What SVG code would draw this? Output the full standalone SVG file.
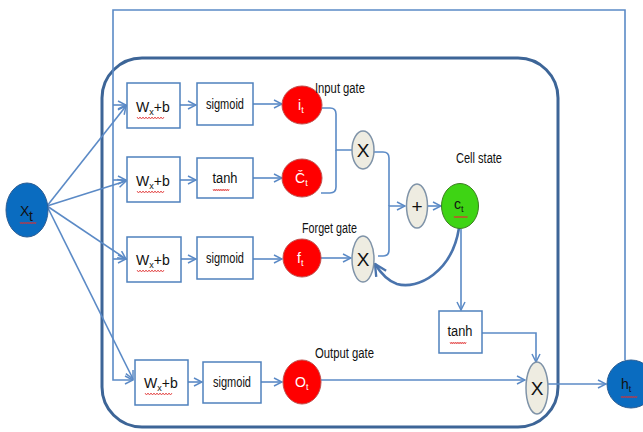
<svg xmlns="http://www.w3.org/2000/svg" width="643" height="432" viewBox="0 0 643 432">
<defs>
<style>
.ln{fill:none;stroke:#5b8ac6;stroke-width:1.6}
.thk{fill:none;stroke:#4a74ad;stroke-width:2.6}
.box{fill:#fff;stroke:#4f81bd;stroke-width:1.5}
.red{fill:#ff0000;stroke:#c0504d;stroke-width:1}
.blue{fill:#0a6cc0;stroke:#2c5d93;stroke-width:1}
.grn{fill:#3ed414;stroke:#3c7d22;stroke-width:1}
.op{fill:#eeece1;stroke:#7f93a8;stroke-width:1.5}
.t{font-family:"Liberation Sans",Arial,sans-serif;font-size:14px;fill:#111}
.lbl{font-family:"Liberation Sans",Arial,sans-serif;font-size:14px;fill:#111}
.w{fill:#fff}
.big{font-size:19px}
.sq{fill:none;stroke:#e03030;stroke-width:0.8}
</style>
<marker id="a" viewBox="0 0 10 10" refX="9" refY="5" markerWidth="10" markerHeight="10" markerUnits="userSpaceOnUse" orient="auto">
<path d="M1,1 L9,5 L1,9" fill="none" stroke="#5b8ac6" stroke-width="1.5"/>
</marker>
<marker id="ab" viewBox="0 0 12 12" refX="11" refY="6" markerWidth="14" markerHeight="14" markerUnits="userSpaceOnUse" orient="auto">
<path d="M1,1 L11,6 L1,11" fill="none" stroke="#4a74ad" stroke-width="2"/>
</marker>
<path id="wv" d="M0,0 l1.5,2 l1.5,-2 l1.5,2 l1.5,-2 l1.5,2 l1.5,-2 l1.5,2 l1.5,-2 l1.5,2 l1.5,-2 l1.5,2 l1.5,-2 l1.5,2 l1.5,-2 l1.5,2 l1.5,-2 l1.5,2 l1.5,-2"/>
</defs>
<rect width="643" height="432" fill="#fff"/>

<g id="cell">
<rect x="102" y="58" width="456" height="369" rx="40" ry="40" fill="none" stroke="#3d6597" stroke-width="3"/>
</g>

<g id="connectors">
<path class="ln" d="M625,360 V10 H113 V380 H133" marker-end="url(#a)"/>
<path class="ln" d="M113,105 H126" marker-end="url(#a)"/>
<path class="ln" d="M113,180 H126" marker-end="url(#a)"/>
<path class="ln" d="M113,259 H126" marker-end="url(#a)"/>
<path class="ln" d="M47,206 L126,106" marker-end="url(#a)"/>
<path class="ln" d="M47,206 L126,181" marker-end="url(#a)"/>
<path class="ln" d="M47,206 L126,259" marker-end="url(#a)"/>
<path class="ln" d="M47,206 L133,379" marker-end="url(#a)"/>
<path class="ln" d="M180,105 H196" marker-end="url(#a)"/>
<path class="ln" d="M180,180 H196" marker-end="url(#a)"/>
<path class="ln" d="M181,259 H196" marker-end="url(#a)"/>
<path class="ln" d="M188,382 H202" marker-end="url(#a)"/>
<path class="ln" d="M253,104 H282" marker-end="url(#a)"/>
<path class="ln" d="M253,178 H282" marker-end="url(#a)"/>
<path class="ln" d="M253,259 H282" marker-end="url(#a)"/>
<path class="ln" d="M261,382 H282" marker-end="url(#a)"/>
<path class="ln" d="M321,108 H330 Q336,108 336,114 V150 H352"/>
<path class="ln" d="M321,193 H330 Q336,193 336,187 V150"/>
<path class="ln" d="M321,258 H351" marker-end="url(#a)"/>
<path class="ln" d="M374,152 H383 Q389,152 389,158 V206"/>
<path class="ln" d="M378,256 H383 Q389,256 389,250 V206 H405" marker-end="url(#a)"/>
<path class="ln" d="M428,206 H441" marker-end="url(#a)"/>
<path class="thk" d="M459,228 C452,272 418,290 397,284 C388,281 380,272 375,264" marker-end="url(#ab)"/>
<path class="ln" d="M461,229 V310" marker-end="url(#a)"/>
<path class="ln" d="M482,333 H536 V362" marker-end="url(#a)"/>
<path class="ln" d="M321,380 H525" marker-end="url(#a)"/>
<path class="ln" d="M548,384 H606" marker-end="url(#a)"/>
</g>

<g id="xt">
<ellipse class="blue" cx="27" cy="210" rx="21" ry="27"/>
<text class="t" x="20" y="216" font-size="15">X</text><text class="t" x="29" y="221" font-size="9">t</text>
<use href="#wv" class="sq" transform="translate(20,222) scale(0.6,1)"/>
</g>

<g id="w1"><rect class="box" x="127" y="83" width="53" height="45"/>
<text class="t" x="136" y="112" font-size="15">W<tspan font-size="9" dy="3">x</tspan><tspan dy="-3">+b</tspan></text>
<use href="#wv" class="sq" transform="translate(137,117)"/></g>
<g id="w2"><rect class="box" x="127" y="157" width="53" height="45"/>
<text class="t" x="136" y="186" font-size="15">W<tspan font-size="9" dy="3">x</tspan><tspan dy="-3">+b</tspan></text>
<use href="#wv" class="sq" transform="translate(137,191)"/></g>
<g id="w3"><rect class="box" x="127" y="237" width="54" height="45"/>
<text class="t" x="136" y="265" font-size="15">W<tspan font-size="9" dy="3">x</tspan><tspan dy="-3">+b</tspan></text>
<use href="#wv" class="sq" transform="translate(137,270)"/></g>
<g id="w4"><rect class="box" x="135" y="360" width="53" height="45"/>
<text class="t" x="144" y="388" font-size="15">W<tspan font-size="9" dy="3">x</tspan><tspan dy="-3">+b</tspan></text>
<use href="#wv" class="sq" transform="translate(145,393)"/></g>

<g id="sig1"><rect class="box" x="197" y="83" width="56" height="42"/>
<text class="t" x="225" y="109" text-anchor="middle" textLength="38" lengthAdjust="spacingAndGlyphs">sigmoid</text></g>
<g id="tanh1"><rect class="box" x="197" y="158" width="56" height="40"/>
<text class="t" x="225" y="183" text-anchor="middle" textLength="25" lengthAdjust="spacingAndGlyphs">tanh</text>
<use href="#wv" class="sq" transform="translate(213,189) scale(0.6,1)"/></g>
<g id="sig3"><rect class="box" x="197" y="237" width="56" height="42"/>
<text class="t" x="225" y="263" text-anchor="middle" textLength="38" lengthAdjust="spacingAndGlyphs">sigmoid</text></g>
<g id="sig4"><rect class="box" x="203" y="362" width="58" height="41"/>
<text class="t" x="232" y="387" text-anchor="middle" textLength="38" lengthAdjust="spacingAndGlyphs">sigmoid</text></g>

<g id="it"><ellipse class="red" cx="302" cy="105" rx="20" ry="19"/>
<text class="t w" x="298" y="110" font-size="14">i<tspan font-size="9" dy="3">t</tspan></text></g>
<g id="ct_tilde"><ellipse class="red" cx="302" cy="178" rx="20" ry="19"/>
<text class="t w" x="295" y="183" font-size="14">Č<tspan font-size="9" dy="3">t</tspan></text></g>
<g id="ft"><ellipse class="red" cx="302" cy="258" rx="19" ry="19"/>
<text class="t w" x="297" y="263" font-size="14">f<tspan font-size="9" dy="3">t</tspan></text></g>
<g id="ot"><ellipse class="red" cx="302" cy="382" rx="19" ry="22"/>
<text class="t w" x="295" y="387" font-size="14">O<tspan font-size="9" dy="3">t</tspan></text></g>

<g id="x1"><ellipse class="op" cx="363" cy="150" rx="11" ry="19"/>
<text class="t big" x="363" y="157" text-anchor="middle">X</text></g>
<g id="x2"><ellipse class="op" cx="363" cy="259" rx="11" ry="23"/>
<text class="t big" x="363" y="266" text-anchor="middle">X</text></g>
<g id="plus"><ellipse class="op" cx="417" cy="206" rx="10.5" ry="22"/>
<text class="t big" x="417" y="213" text-anchor="middle">+</text></g>
<g id="ct"><ellipse class="grn" cx="460" cy="206" rx="18.5" ry="22.5"/>
<text class="t" x="454" y="209" font-size="13">c<tspan font-size="9" dy="3">t</tspan></text>
<use href="#wv" class="sq" transform="translate(454,216) scale(0.5,1)"/></g>
<g id="tanh2"><rect class="box" x="439" y="311" width="43" height="42"/>
<text class="t" x="460" y="336" text-anchor="middle" textLength="25" lengthAdjust="spacingAndGlyphs">tanh</text>
<use href="#wv" class="sq" transform="translate(450,342) scale(0.6,1)"/></g>
<g id="xout"><ellipse class="op" cx="537" cy="388" rx="11" ry="26"/>
<text class="t big" x="537" y="395" text-anchor="middle">X</text></g>
<g id="ht"><ellipse class="blue" cx="631" cy="384" rx="24" ry="24"/>
<text class="t" x="621" y="389" font-size="14">h<tspan font-size="9" dy="3">t</tspan></text>
<use href="#wv" class="sq" transform="translate(621,396) scale(0.6,1)"/></g>

<g id="labels">
<text class="lbl" x="315" y="93" textLength="50" lengthAdjust="spacingAndGlyphs">Input gate</text>
<text class="lbl" x="456" y="163" textLength="46" lengthAdjust="spacingAndGlyphs">Cell state</text>
<text class="lbl" x="302" y="233" textLength="55" lengthAdjust="spacingAndGlyphs">Forget gate</text>
<text class="lbl" x="315" y="358" textLength="59" lengthAdjust="spacingAndGlyphs">Output gate</text>
</g>
</svg>
